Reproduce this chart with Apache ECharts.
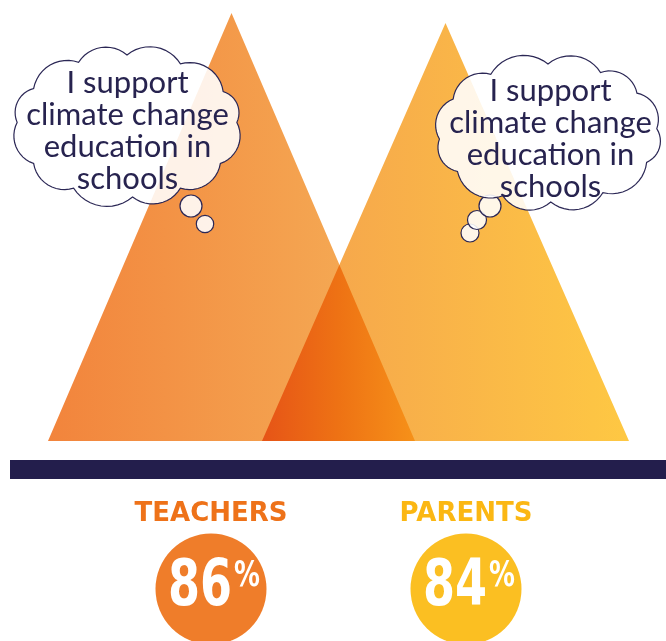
<!DOCTYPE html>
<html>
<head>
<meta charset="utf-8">
<script src="https://cdn.jsdelivr.net/npm/echarts@6/dist/echarts.min.js"></script>
<style>
  html, body { margin: 0; padding: 0; background: #fff; }
  #chart { width: 666px; height: 641px; }
</style>
</head>
<body>
<div id="chart"></div>
<script>
// data
const groups = ['TEACHERS', 'PARENTS'];
const support = [86, 84];
const bubbleLines = ['I support', 'climate change', 'education in', 'schools'];

const labelColors = ['#ee7219', '#fbb713'];
const circleColors = ['#ef7d2a', '#fbbf22'];
const lin = stops => new echarts.graphic.LinearGradient(0, 0, 1, 0,
  stops.map((c, i) => ({ offset: i / (stops.length - 1), color: c })));
const triFills = [lin(['#f2843c', '#f5b058']), lin(['#f4a04e', '#fec843'])];
const overlapFill = lin(['#e65417', '#ee7214', '#f69119']);

// scalloped cloud outline around an ellipse, as polygon points
function cloudPoints(cx, cy, rx, ry, weights, k) {
  const total = weights.reduce((a, b) => a + b, 0);
  let acc = 0;
  const pts = [];
  weights.forEach(w => {
    const t = -Math.PI / 2 + 2 * Math.PI * acc / total;
    pts.push([cx + rx * Math.cos(t), cy + ry * Math.sin(t)]);
    acc += w;
  });
  const out = [];
  for (let i = 0; i < pts.length; i++) {
    const p0 = pts[i], p1 = pts[(i + 1) % pts.length];
    const dx = p1[0] - p0[0], dy = p1[1] - p0[1];
    const c = Math.hypot(dx, dy);
    const r = c * k;
    const h = Math.sqrt(r * r - c * c / 4);
    const ux = dx / c, uy = dy / c;
    const ox = (p0[0] + p1[0]) / 2 - uy * h;
    const oy = (p0[1] + p1[1]) / 2 + ux * h;
    let a0 = Math.atan2(p0[1] - oy, p0[0] - ox);
    let a1 = Math.atan2(p1[1] - oy, p1[0] - ox);
    while (a1 < a0) a1 += 2 * Math.PI;
    for (let j = 0; j < 12; j++) {
      const a = a0 + (a1 - a0) * j / 12;
      out.push([ox + r * Math.cos(a), oy + r * Math.sin(a)]);
    }
  }
  return out;
}

const bubbleStyle = { fill: 'rgba(255,255,255,0.88)', stroke: '#2b2755', lineWidth: 1.2 };

function bubble(cx, cy, rx, ry, weights, tail, textX, textY) {
  const els = [];
  tail.forEach(c => {
    els.push({ type: 'circle', z: 100, shape: { cx: c[0], cy: c[1], r: c[2] }, style: bubbleStyle });
  });
  els.push({ type: 'polygon', z: 101, shape: { points: cloudPoints(cx, cy, rx, ry, weights, 0.66) }, style: bubbleStyle });
  els.push({
    type: 'text', z: 102, x: textX, y: textY,
    style: {
      text: bubbleLines.join('\n'), align: 'center', verticalAlign: 'middle',
      font: '31px Lato', lineHeight: 32, fill: '#27234f'
    }
  });
  return els;
}

function intersect(a, b, c, d) {
  const r = [b[0] - a[0], b[1] - a[1]], s = [d[0] - c[0], d[1] - c[1]];
  const den = r[0] * s[1] - r[1] * s[0];
  const t = ((c[0] - a[0]) * s[1] - (c[1] - a[1]) * s[0]) / den;
  return [a[0] + t * r[0], a[1] + t * r[1]];
}

const chart = echarts.init(document.getElementById('chart'));
const WIDTH_RATIO = 0.8575;

chart.setOption({
  animation: false,
  grid: [
    { left: 124.5, width: 428, top: 13, bottom: 200 },
    { left: 83.5, width: 510, top: 580, height: 18 }
  ],
  xAxis: [
    { type: 'category', data: groups, show: false },
    {
      type: 'category', data: groups, gridIndex: 1, position: 'top',
      axisLine: { show: false }, axisTick: { show: false }, splitLine: { show: false },
      axisLabel: {
        margin: 53, fontFamily: 'DejaVu Sans', fontWeight: 'bold', fontSize: 26,
        color: (v, i) => labelColors[i]
      }
    }
  ],
  yAxis: [
    { type: 'value', min: 0, max: 86, show: false },
    { type: 'value', min: -1, max: 1, show: false, gridIndex: 1 }
  ],
  series: [
    {
      type: 'custom',
      data: support.map((v, i) => [i, v]),
      encode: { x: 0, y: 1 },
      renderItem: function (params, api) {
        const half = api.size([1, 0])[0] * WIDTH_RATIO;
        const tri = idx => {
          const top = api.coord([idx, support[idx]]);
          const base = api.coord([idx, 0]);
          return [top, [base[0] + half, base[1]], [base[0] - half, base[1]]];
        };
        const me = tri(params.dataIndex);
        const children = [{ type: 'polygon', shape: { points: me }, style: { fill: triFills[params.dataIndex] } }];
        if (params.dataIndex === 1) {
          // darker overlap where the two triangles cross
          const prev = tri(0);
          const peak = intersect(prev[0], prev[1], me[0], me[2]);
          children.push({
            type: 'polygon', shape: { points: [peak, prev[1], me[2]] },
            style: { fill: overlapFill }
          });
        }
        return { type: 'group', children: children };
      }
    },
    {
      type: 'scatter',
      xAxisIndex: 1, yAxisIndex: 1,
      clip: false,
      symbolSize: 111,
      data: support.map((v, i) => ({ value: [i, 0, v], itemStyle: { color: circleColors[i], opacity: 1 } }))
    }
  ]
});

// percentages placed on the circles, condensed via scaleX
const pctEls = [];
support.forEach((v, i) => {
  const c = chart.convertToPixel({ gridIndex: 1 }, [i, 0]);
  pctEls.push({
    type: 'text', z: 110, x: c[0] + 21, y: c[1] - 0.5, scaleX: 0.72,
    style: { text: String(v), align: 'right', verticalAlign: 'middle', font: 'bold 64px "DejaVu Sans"', fill: '#fff' }
  });
  pctEls.push({
    type: 'text', z: 110, x: c[0] + 23, y: c[1] - 12, scaleX: 0.72,
    style: { text: '%', align: 'left', verticalAlign: 'middle', font: 'bold 36px "DejaVu Sans"', fill: '#fff' }
  });
});

chart.setOption({
  graphic: [
    { type: 'rect', z: 100, shape: { x: 10, y: 460, width: 656, height: 19 }, style: { fill: '#231e4c' } }
  ]
    .concat(bubble(127, 126, 110, 71, [1, 1.1, 0.9, 1.2, 1, 0.9, 1.1, 1, 1.2, 1, 1.1, 0.9],
      [[205, 224, 8.7], [191, 206, 11]], 127.5, 131))
    .concat(bubble(548, 133, 109, 69, [1, 0.9, 1.1, 1, 1.2, 1, 0.9, 1.1, 1, 1.2, 1, 1.1],
      [[470, 233, 9], [477, 220, 9.5], [490, 206, 11]], 550.5, 139))
    .concat(pctEls)
});
</script>
</body>
</html>
